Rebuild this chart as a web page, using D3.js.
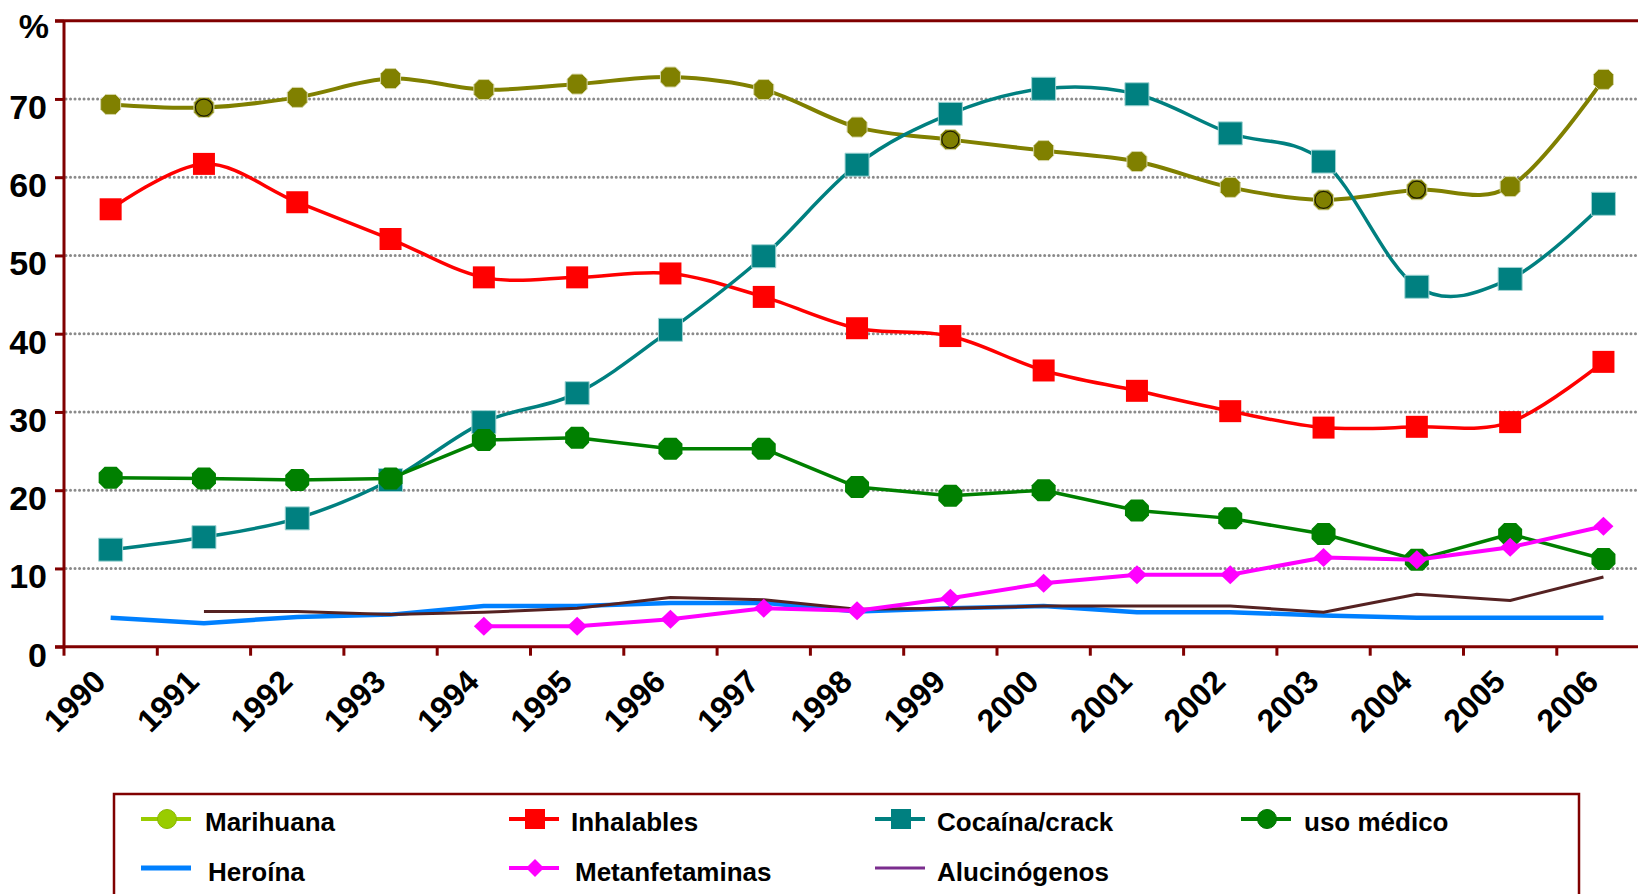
<!DOCTYPE html>
<html>
<head>
<meta charset="utf-8">
<script src="https://cdn.jsdelivr.net/npm/d3@7/dist/d3.min.js"></script>
<style>
  html, body { margin: 0; padding: 0; background: #fff; overflow: hidden; }
  svg { display: block; font-family: "Liberation Sans", Arial, sans-serif; }
</style>
</head>
<body>
<svg id="chart" width="1638" height="894"></svg>
<script>
// ---- data ----
const years = [1990,1991,1992,1993,1994,1995,1996,1997,1998,1999,2000,2001,2002,2003,2004,2005,2006];
const marihuana    = [69.3,68.9,70.2,72.6,71.2,71.9,72.8,71.2,66.4,64.8,63.4,62.0,58.7,57.1,58.4,58.8,72.5];
const marihuanaRinged = [1991,1999,2003,2004];
const inhalables   = [55.9,61.7,56.8,52.1,47.2,47.2,47.7,44.7,40.7,39.7,35.3,32.7,30.1,28.0,28.1,28.7,36.4];
const cocaina      = [12.4,14.0,16.4,21.3,28.7,32.4,40.5,49.9,61.6,68.1,71.3,70.6,65.6,62.0,46.0,47.0,56.6];
const usoMedico    = [21.6,21.5,21.3,21.5,26.4,26.7,25.3,25.3,20.4,19.3,20.0,17.4,16.4,14.4,11.1,14.4,11.2];
const heroina      = [3.7,3.0,3.8,4.1,5.2,5.2,5.6,5.6,4.5,4.9,5.2,4.4,4.4,4.0,3.7,3.7,3.7];
const metanfetaminas = [null,null,null,null,2.6,2.6,3.5,4.9,4.6,6.2,8.1,9.2,9.2,11.4,11.1,12.7,15.4];
const alucinogenos = [null,4.5,4.5,4.1,4.4,4.9,6.3,6.0,4.8,4.9,5.2,5.2,5.2,4.4,6.7,5.9,8.9];
const yTicks = [0,10,20,30,40,50,60,70,80];
const yTickLabels = ["0","10","20","30","40","50","60","70",""];
const yUnit = "%";
const legendLabels = ["Marihuana","Inhalables","Cocaína/crack","uso médico","Heroína","Metanfetaminas","Alucinógenos"];

(function () {
// ---- layout ----
const svg = d3.select("#chart");
const pLeft = 64, pTop = 20.7, pBottom = 646.7, pRight = 64 + 17 * 93.3;
const x = d3.scaleBand().domain(years).range([pLeft, pRight]).padding(0);
const xc = d => x(d) + x.bandwidth() / 2;
const y = d3.scaleLinear().domain([0, 80]).range([pBottom, pTop]);
const axisColor = "#800000";

// gridlines
svg.append("g").selectAll("line").data(yTicks.filter(d => d > 0 && d < 80)).join("line")
  .attr("x1", pLeft + 2).attr("x2", pRight)
  .attr("y1", d => y(d)).attr("y2", d => y(d))
  .attr("stroke", "#8a8a8a").attr("stroke-width", 3)
  .attr("stroke-dasharray", "0.01 4.5").attr("stroke-linecap", "round");

// y axis
const yAxis = svg.append("g").attr("transform", `translate(${pLeft},0)`)
  .call(d3.axisLeft(y).tickValues(yTicks).tickSize(9).tickPadding(8)
    .tickFormat((d, i) => yTickLabels[i]));
yAxis.select(".domain").remove();
yAxis.selectAll(".tick line").attr("stroke", axisColor).attr("stroke-width", 3);
yAxis.selectAll(".tick text").attr("fill", "#000").attr("font-size", 34).attr("font-weight", "bold")
  .attr("font-family", "Liberation Sans, Arial, sans-serif").attr("dy", 19.5);
svg.append("line").attr("x1", pLeft).attr("x2", pLeft).attr("y1", pTop).attr("y2", pBottom)
  .attr("stroke", axisColor).attr("stroke-width", 3);
svg.append("line").attr("x1", pLeft - 9).attr("x2", pRight).attr("y1", pTop).attr("y2", pTop)
  .attr("stroke", axisColor).attr("stroke-width", 3);
svg.append("text").attr("x", 49).attr("y", 38).attr("text-anchor", "end")
  .attr("font-size", 34).attr("font-weight", "bold").text(yUnit);

// x axis
svg.append("line").attr("x1", pLeft - 9).attr("x2", pRight).attr("y1", pBottom).attr("y2", pBottom)
  .attr("stroke", axisColor).attr("stroke-width", 3);
svg.append("g").selectAll("line").data(years.concat([null])).join("line")
  .attr("x1", (d, i) => pLeft + i * x.bandwidth()).attr("x2", (d, i) => pLeft + i * x.bandwidth())
  .attr("y1", pBottom).attr("y2", pBottom + 9)
  .attr("stroke", axisColor).attr("stroke-width", 3);
svg.append("g").selectAll("text").data(years).join("text")
  .attr("transform", d => `translate(${xc(d) - 3},${pBottom + 37}) rotate(-45)`)
  .attr("text-anchor", "end").attr("font-size", 32).attr("font-weight", "bold")
  .text(d => d);

// ---- series ----
const smooth = d3.curveCardinal.tension(0);
function drawLine(data, color, width, curve) {
  const line = d3.line().defined(d => d != null)
    .x((d, i) => xc(years[i])).y(d => y(d)).curve(curve);
  svg.append("path").datum(data).attr("d", line).attr("fill", "none")
    .attr("stroke", color).attr("stroke-width", width).attr("stroke-linejoin", "round");
}
function octagon(w, h, c) {
  const a = w / 2, b = h / 2;
  return `M${-a + c},${-b}L${a - c},${-b}L${a},${-b + c}L${a},${b - c}L${a - c},${b}L${-a + c},${b}L${-a},${b - c}L${-a},${-b + c}Z`;
}
function drawMarkers(data, pathStr, fill, stroke) {
  const pts = data.map((v, i) => ({ v, yr: years[i] })).filter(p => p.v != null);
  svg.append("g").selectAll("path").data(pts).join("path")
    .attr("transform", p => `translate(${xc(p.yr)},${y(p.v)})`)
    .attr("d", pathStr).attr("fill", fill)
    .attr("stroke", stroke || "none").attr("stroke-width", 1);
  return pts;
}

// Marihuana
drawLine(marihuana, "#808000", 4, smooth);
const mPts = drawMarkers(marihuana, octagon(20, 20, 5), "#808000", "#d6d6a8");
svg.append("g").selectAll("circle").data(mPts.filter(p => marihuanaRinged.includes(p.yr))).join("circle")
  .attr("cx", p => xc(p.yr)).attr("cy", p => y(p.v)).attr("r", 8.5)
  .attr("fill", "none").attr("stroke", "#1a1a00").attr("stroke-width", 1.2);

// Inhalables
drawLine(inhalables, "#ff0000", 3.5, smooth);
drawMarkers(inhalables, "M-11,-11H11V11H-11Z", "#ff0000");

// Cocaína/crack
drawLine(cocaina, "#008080", 3.5, smooth);
drawMarkers(cocaina, "M-12,-11.5H12V11.5H-12Z", "#008080", "#9fd3d3");

// uso médico
drawLine(usoMedico, "#008000", 3.5, d3.curveLinear);
drawMarkers(usoMedico, octagon(24, 22, 6), "#008000");

// Heroína
drawLine(heroina, "#0080ff", 4.5, d3.curveLinear);

// Alucinógenos
drawLine(alucinogenos, "#552222", 3, d3.curveLinear);

// Metanfetaminas
drawLine(metanfetaminas, "#ff00ff", 4, d3.curveLinear);
drawMarkers(metanfetaminas, "M0,-9.5L10,0L0,9.5L-10,0Z", "#ff00ff");

// ---- legend ----
svg.append("rect").attr("x", 114).attr("y", 794).attr("width", 1465).attr("height", 140)
  .attr("fill", "none").attr("stroke", axisColor).attr("stroke-width", 2.5);

const legendItems = [
  { label: legendLabels[0], color: "#99cc00", sym: "circle", sx: 141, tx: 205, row: 0 },
  { label: legendLabels[1], color: "#ff0000", sym: "square", sx: 509, tx: 571, row: 0 },
  { label: legendLabels[2], color: "#008080", sym: "square", sx: 875, tx: 937, row: 0 },
  { label: legendLabels[3], color: "#008000", sym: "circle", sx: 1241, tx: 1304, row: 0 },
  { label: legendLabels[4], color: "#0080ff", sym: null, sx: 141, tx: 208, row: 1, w: 5 },
  { label: legendLabels[5], color: "#ff00ff", sym: "diamond", sx: 509, tx: 575, row: 1 },
  { label: legendLabels[6], color: "#7b2d8e", sym: null, sx: 875, tx: 937, row: 1, w: 3 }
];
const rowY = [819, 868], rowBase = [831, 881];
const lg = svg.append("g").selectAll("g").data(legendItems).join("g");
lg.append("line").attr("x1", d => d.sx).attr("x2", d => d.sx + 50)
  .attr("y1", d => rowY[d.row]).attr("y2", d => rowY[d.row])
  .attr("stroke", d => d.color).attr("stroke-width", d => d.w || 4);
lg.filter(d => d.sym === "circle").append("circle")
  .attr("cx", d => d.sx + 26).attr("cy", d => rowY[d.row]).attr("r", 9.5)
  .attr("fill", d => d.color).attr("stroke", d => d3.color(d.color).darker(0.3)).attr("stroke-width", 1);
lg.filter(d => d.sym === "square").append("rect")
  .attr("x", d => d.sx + 16).attr("y", d => rowY[d.row] - 10).attr("width", 20).attr("height", 20)
  .attr("fill", d => d.color);
lg.filter(d => d.sym === "diamond").append("path")
  .attr("transform", d => `translate(${d.sx + 26},${rowY[d.row]})`)
  .attr("d", "M0,-9L9,0L0,9L-9,0Z").attr("fill", d => d.color);
lg.append("text").attr("x", d => d.tx).attr("y", d => rowBase[d.row])
  .attr("font-size", 26).attr("font-weight", "bold").text(d => d.label);
})();
</script>
</body>
</html>
